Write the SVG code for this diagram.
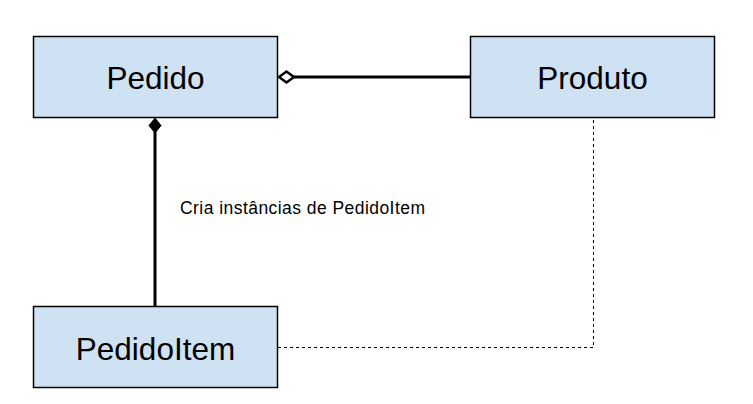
<svg xmlns="http://www.w3.org/2000/svg" width="753" height="404" viewBox="0 0 753 404">
<style>
.box{fill:#cfe2f3;stroke:#000;stroke-width:1.5}
.lbl{font-family:"Liberation Sans",Arial,sans-serif;font-size:31.5px;fill:#000;text-anchor:middle}
.note{font-family:"Liberation Sans",Arial,sans-serif;font-size:17.5px;fill:#000}
.solid{stroke:#000;stroke-width:3;fill:none}
.dash{stroke:#000;stroke-width:1;fill:none;stroke-dasharray:3,3}
</style>
<rect width="753" height="404" fill="#fff"/>
<g id="connectors">
<line class="solid" x1="294" y1="77" x2="470" y2="77"/>
<polygon points="279,77 286.5,71.5 294,77 286.5,82.5" fill="#fff" stroke="#000" stroke-width="2.5"/>
<line class="solid" x1="155" y1="132" x2="155" y2="306"/>
<polygon points="155,118 161,125.5 155,133 149,125.5" fill="#000" stroke="#000" stroke-width="1"/>
<polyline class="dash" points="278,347.5 593.5,347.5 593.5,117"/>
</g>
<g id="pedido">
<rect class="box" x="33.5" y="36.5" width="244" height="81"/>
<text class="lbl" x="155.5" y="89">Pedido</text>
</g>
<g id="produto">
<rect class="box" x="470.5" y="36.5" width="244" height="81"/>
<text class="lbl" x="592.5" y="89">Produto</text>
</g>
<g id="pedidoitem">
<rect class="box" x="33.5" y="306.5" width="244" height="81"/>
<text class="lbl" x="155.5" y="359.5">PedidoItem</text>
</g>
<g id="label">
<text class="note" x="180" y="214" textLength="245" lengthAdjust="spacing">Cria instâncias de PedidoItem</text>
</g>
</svg>
